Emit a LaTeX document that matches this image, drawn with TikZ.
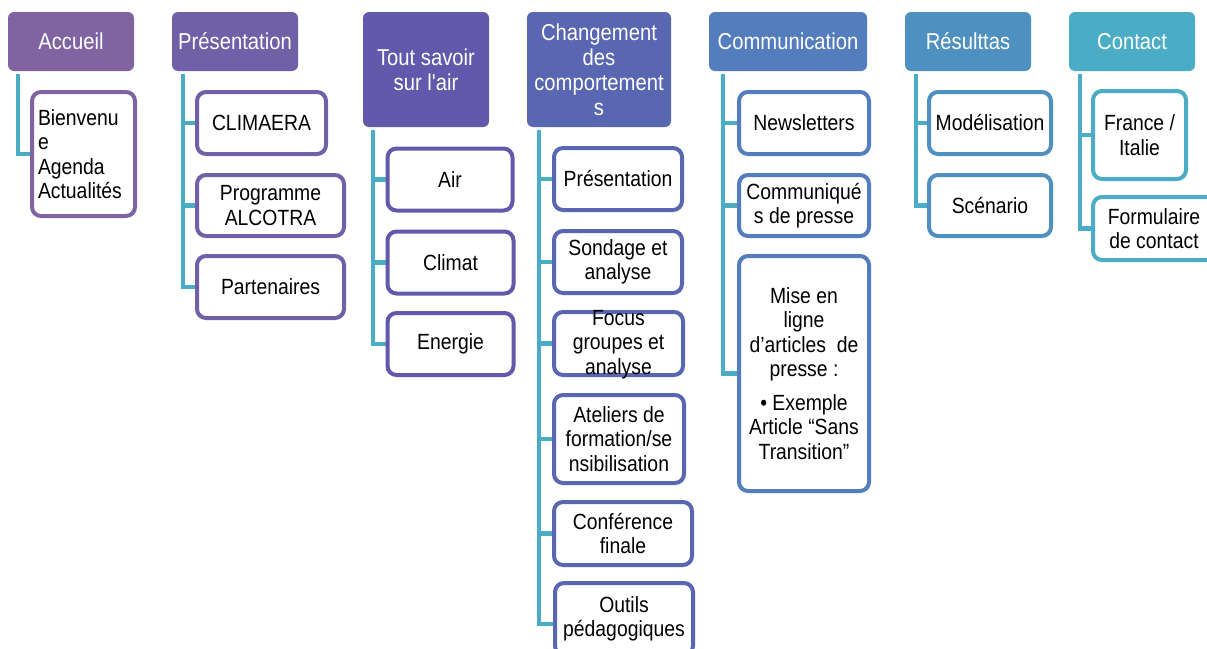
\documentclass[tikz,border=0pt]{standalone}
\usepackage{fontspec}
\setmainfont{Liberation Sans}[Ligatures=TeXOff,FakeStretch=0.88]
\usetikzlibrary{backgrounds}
\definecolor{cA}{RGB}{128,100,162}
\definecolor{cB}{RGB}{112,96,168}
\definecolor{cC}{RGB}{99,89,172}
\definecolor{cD}{RGB}{89,102,177}
\definecolor{cE}{RGB}{84,125,189}
\definecolor{cF}{RGB}{78,145,192}
\definecolor{cG}{RGB}{75,172,198}
\definecolor{connc}{RGB}{75,172,198}
\begin{document}
\begin{tikzpicture}[x=1pt,y=-1pt,
  hdr/.style={fill=#1, rounded corners=6pt, text=white, align=center, inner sep=1pt,
    font=\fontsize{23}{25}\selectfont},
  kid/.style={draw=#1, fill=white, line width=4pt, rounded corners=9pt, text=black,
    align=center, inner sep=1pt, font=\fontsize{22}{24.5}\selectfont},
  sz/.style 2 args={minimum width=#1pt, minimum height=#2pt},
  conn/.style={draw=connc, line width=4.5pt}]
\useasboundingbox (0,0) rectangle (1207,648);

% headers
\node[hdr=cA, sz={126}{59}] (h1) at (71,41.5) {Accueil};
\node[hdr=cB, sz={126}{59}] (h2) at (235,41.5) {Présentation};
\node[hdr=cC, sz={126}{115}] (h3) at (426,69.5) {Tout savoir\\sur l'air};
\node[hdr=cD, sz={144}{115}] (h4) at (599,69.5) {Changement\\des\\comportement\\s};
\node[hdr=cE, sz={158}{59}] (h5) at (788,41.5) {Communication};
\node[hdr=cF, sz={126}{59}] (h6) at (968,41.5) {Résulttas};
\node[hdr=cG, sz={126}{59}] (h7) at (1132,41.5) {Contact};

% Accueil
\node[kid=cA, text width=91pt, align=left, inner xsep=6pt, minimum height=124pt] (a1) at (83.5,154) {Bienvenu\\e\\Agenda\\Actualités};

% Présentation
\node[kid=cB, sz={129}{62}] (b1) at (261.5,123) {CLIMAERA};
\node[kid=cB, sz={147}{61}] (b2) at (270.5,205.5) {Programme\\ALCOTRA};
\node[kid=cB, sz={147}{62}] (b3) at (270.5,287) {Partenaires};

% Tout savoir
\node[kid=cC, sz={125}{62}] (c1) at (450,179.5) {Air};
\node[kid=cC, sz={126}{62}] (c2) at (450.5,262.5) {Climat};
\node[kid=cC, sz={126}{62}] (c3) at (450.5,344) {Energie};

% Changement
\node[kid=cD, sz={128}{62}] (d1) at (618,179) {Présentation};
\node[kid=cD, sz={128}{62}] (d2) at (618,262) {Sondage et\\analyse};
\node[kid=cD, sz={129}{63}] (d3) at (618.5,343.5) {\smash{\raisebox{-6pt}{\parbox[c]{125pt}{\centering Focus\\groupes et\\analyse}}}};
\node[kid=cD, sz={130}{88}] (d4) at (619,439) {Ateliers de\\formation/se\\nsibilisation};
\node[kid=cD, sz={138}{63}] (d5) at (623,533.5) {Conférence\\finale};
\node[kid=cD, sz={138}{72}] (d6) at (624,619) {\raisebox{2pt}{\parbox[c]{136pt}{\centering Outils\\pédagogiques}}};

% Communication
\node[kid=cE, sz={130}{62}] (e1) at (804,123) {Newsletters};
\node[kid=cE, sz={130}{61}] (e2) at (804,205.5) {Communiqué\\s de presse};
\node[kid=cE, sz={130}{235}] (e3) at (804,373.5) {Mise en\\ligne\\d’articles~ de\\presse :\\[9pt]• Exemple\\Article “Sans\\Transition”};

% Résulttas
\node[kid=cF, sz={122}{62}] (f1) at (990,123) {Modélisation};
\node[kid=cF, sz={122}{61}] (f2) at (990,205.5) {Scénario};

% Contact
\node[kid=cG, sz={93}{88}] (g1) at (1139.5,135) {France /\\Italie};
\node[kid=cG, sz={122}{63}] (g2) at (1154,228.5) {Formulaire\\de contact};

% connector roots
\coordinate (ra) at (18,74);
\coordinate (rb) at (183,74);
\coordinate (rc) at (373,130);
\coordinate (rd) at (539,130);
\coordinate (re) at (723,74);
\coordinate (rf) at (916,74);
\coordinate (rg) at (1080,74);

\begin{scope}[on background layer]
\draw[conn] (ra) |- (a1.west);
\foreach \n in {b1,b2,b3} \draw[conn] (rb) |- (\n.west);
\foreach \n in {c1,c2,c3} \draw[conn] (rc) |- (\n.west);
\foreach \n in {d1,d2,d3,d4,d5} \draw[conn] (rd) |- (\n.west);
\draw[conn] (rd) |- ([yshift=-5pt]d6.west);
\foreach \n in {e1,e2,e3} \draw[conn] (re) |- (\n.west);
\foreach \n in {f1,f2} \draw[conn] (rf) |- (\n.west);
\foreach \n in {g1,g2} \draw[conn] (rg) |- (\n.west);
\end{scope}
\end{tikzpicture}
\end{document}
